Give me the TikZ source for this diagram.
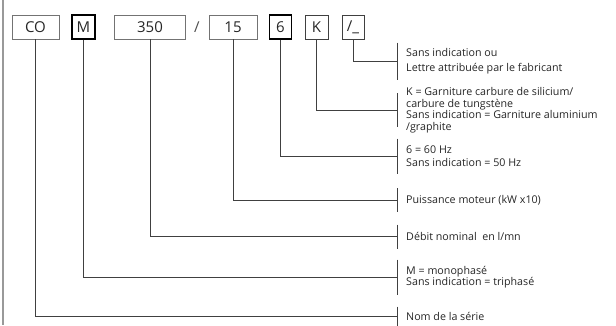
\documentclass[tikz,border=0pt]{standalone}
\usepackage{fontspec}
\setmainfont{Open Sans}

\begin{document}
\begin{tikzpicture}[x=1pt, y=-1pt,
  code/.style={draw=black!55, line width=0.6pt, minimum height=24pt, inner sep=0pt,
    font=\fontsize{15}{15}\selectfont, text=black!85},
  codebold/.style={code, draw=black, line width=1.2pt},
  codemid/.style={code, draw=black!75, line width=0.9pt},
  desc/.style={anchor=west, inner xsep=9pt, inner ysep=0pt, align=left,
    font=\fontsize{10.7}{11.5}\selectfont, text=black!85},
  link/.style={draw=black!75, line width=0.6pt}]

  \useasboundingbox (0,0) rectangle (616,325);

  % --- Left edge ---
  \draw[black!40, line width=1.5pt] (3,0) -- (3,325);

  % --- Code boxes ---
  \node[code, minimum width=47pt] (co) at (35.5,27) {CO};
  \node[codebold, minimum width=23pt] (m) at (83.5,27) {M};
  \node[code, minimum width=71pt] (debit) at (150,27) {350};
  \node[font=\fontsize{15}{15}\selectfont, text=black!70] (slash) at (197,27) {/};
  \node[code, minimum width=48pt] (puiss) at (233,27) {15};
  \node[codebold, minimum width=22pt] (freq) at (280.5,27) {6};
  \node[codemid, minimum width=23pt] (garn) at (316.5,27) {K};
  \node[codemid, minimum width=22pt] (lettre) at (353,27) {/\_};

  % --- Descriptions ---
  \node[desc] (tLettre) at (397,61) {Sans indication ou\\[3pt]Lettre attribuée par le fabricant};
  \node[desc] (tGarn) at (397,110) {K = Garniture carbure de silicium/\\carbure de tungstène\\Sans indication = Garniture aluminium\\/graphite};
  \node[desc] (tFreq) at (397,156) {6 = 60 Hz\\[1pt]Sans indication = 50 Hz};
  \node[desc] (tPuiss) at (397,200) {Puissance moteur (kW x10)};
  \node[desc] (tDebit) at (397,236.5) {Débit nominal\ \ en l/mn};
  \node[desc] (tMode) at (397,277) {M = monophasé\\Sans indication = triphasé};
  \node[desc] (tSerie) at (397,316.5) {Nom de la série};

  % --- Brackets ---
  \draw[link] ([yshift=18.5pt]tLettre.west) -- ([yshift=-18.5pt]tLettre.west);
  \draw[link] ([yshift=17pt]tGarn.west) -- ([yshift=-17pt]tGarn.west);
  \draw[link] ([yshift=17.5pt]tFreq.west) -- ([yshift=-17.5pt]tFreq.west);
  \draw[link] ([yshift=12pt]tPuiss.west) -- ([yshift=-12pt]tPuiss.west);
  \draw[link] ([yshift=12pt]tDebit.west) -- ([yshift=-12pt]tDebit.west);
  \draw[link] ([yshift=17.5pt]tMode.west) -- ([yshift=-17.5pt]tMode.west);
  \draw[link] ([yshift=10pt]tSerie.west) -- ([yshift=-10pt]tSerie.west);

  % --- Connectors ---
  \draw[link] (lettre.south) |- (tLettre.west);
  \draw[link] (garn.south) |- (tGarn.west);
  \draw[link] (freq.south) |- (tFreq.west);
  \draw[link] (puiss.south) |- (tPuiss.west);
  \draw[link] (debit.south) |- (tDebit.west);
  \draw[link] (m.south) |- (tMode.west);
  \draw[link] (co.south) |- (tSerie.west);

\end{tikzpicture}
\end{document}
